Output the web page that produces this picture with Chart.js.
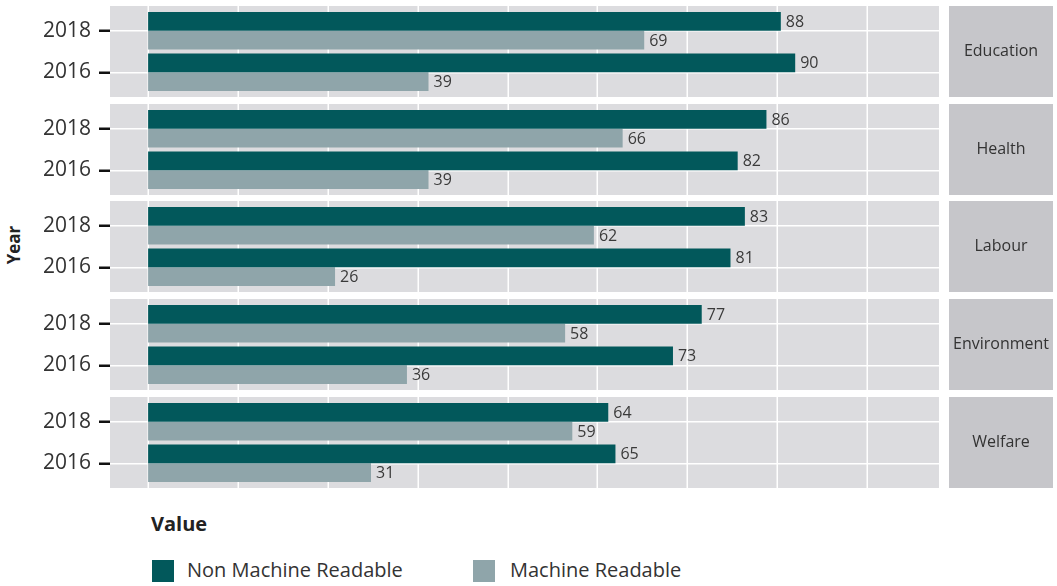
<!DOCTYPE html>
<html>
<head>
<meta charset="utf-8">
<script src="https://cdn.jsdelivr.net/npm/chart.js@4.4.1/dist/chart.umd.min.js"></script>
<style>
    body { margin: 0; background: #ffffff; font-family: 'Open Sans', sans-serif; color: #333; }
    #wrap { position: relative; width: 1057px; height: 586px; overflow: hidden; }
    .panel { position: absolute; left: 0; }
    #yearTitle { position: absolute; left: 13px; top: 245px; transform: translate(-50%, -50%) rotate(-90deg); font-weight: 700; font-size: 17px; color: #222; }
    #valueTitle { position: absolute; left: 151px; top: 510px; font-weight: 700; font-size: 20px; color: #222; }
    .legendBox { position: absolute; top: 560px; width: 22px; height: 22px; }
    .legendText { position: absolute; top: 556px; font-size: 20px; color: #333; }
</style>
</head>
<body>
<div id="wrap">
    <div id="yearTitle">Year</div>
    <div id="valueTitle">Value</div>
    <div class="legendBox" style="left:152px; background:#02585b;"></div>
    <div class="legendText" style="left:187px;">Non Machine Readable</div>
    <div class="legendBox" style="left:473px; background:#8fa5aa;"></div>
    <div class="legendText" style="left:510px;">Machine Readable</div>
</div>
<script>
// Data
const sectors = ['Education', 'Health', 'Labour', 'Environment', 'Welfare'];
const years = ['2018', '2016'];
const nonMachine2018 = [88, 86, 83, 77, 64];
const nonMachine2016 = [90, 82, 81, 73, 65];
const machine2018 = [69, 66, 62, 58, 59];
const machine2016 = [39, 39, 26, 36, 31];
const xGridTicks = [0, 12.5, 25, 37.5, 50, 62.5, 75, 87.5, 100];

const nonMachineByYear = [nonMachine2018, nonMachine2016];
const machineByYear = [machine2018, machine2016];

// Panel layout (facet rows)
const panelTops = [6, 104, 201, 299, 397];
const panelHeight = 91;
const panelPad = 4; // extra room above / below the categories (ggplot expand)
const canvasWidth = 1057;
const panelRight = 939;
const stripLeft = 949;
const stripRight = 1053;

const darkTeal = '#02585b';
const greyBar = '#8fa5aa';

// Panel background + vertical grid lines across the whole panel
const panelBackground = {
    id: 'panelBackground',
    beforeDraw(chart) {
        const { ctx, chartArea } = chart;
        const top = chartArea.top - panelPad;
        const bottom = chartArea.bottom + panelPad;
        ctx.save();
        ctx.fillStyle = '#dcdcdf';
        ctx.fillRect(chartArea.left, top, chartArea.right - chartArea.left, bottom - top);
        ctx.strokeStyle = '#ffffff';
        ctx.lineWidth = 1.5;
        xGridTicks.forEach(v => {
            const x = Math.round(chart.scales.x.getPixelForValue(v)) + 0.25;
            ctx.beginPath();
            ctx.moveTo(x, top);
            ctx.lineTo(x, bottom);
            ctx.stroke();
        });
        ctx.restore();
    }
};

// Facet strip on the right
const facetStrip = {
    id: 'facetStrip',
    afterDraw(chart, args, opts) {
        const { ctx, chartArea } = chart;
        const top = chartArea.top - panelPad;
        const bottom = chartArea.bottom + panelPad;
        ctx.save();
        ctx.fillStyle = '#c6c6ca';
        ctx.fillRect(stripLeft, top, stripRight - stripLeft, bottom - top);
        ctx.fillStyle = '#333';
        ctx.font = '16px "Open Sans"';
        ctx.textAlign = 'center';
        ctx.textBaseline = 'middle';
        ctx.fillText(opts.text, (stripLeft + stripRight) / 2, (top + bottom) / 2);
        ctx.restore();
    }
};

// Value labels at the end of each bar
const valueLabels = {
    id: 'valueLabels',
    afterDatasetsDraw(chart) {
        const { ctx } = chart;
        ctx.save();
        ctx.fillStyle = '#3a3a3a';
        ctx.font = '16px "Open Sans"';
        ctx.textAlign = 'left';
        ctx.textBaseline = 'middle';
        chart.data.datasets.forEach((dataset, i) => {
            chart.getDatasetMeta(i).data.forEach((bar, j) => {
                ctx.fillText(String(dataset.data[j]), bar.x + 5, bar.y + 1);
            });
        });
        ctx.restore();
    }
};

function makePanel(p) {
    const canvas = document.createElement('canvas');
    canvas.className = 'panel';
    canvas.width = canvasWidth;
    canvas.height = panelHeight;
    canvas.style.top = panelTops[p] + 'px';
    canvas.style.width = canvasWidth + 'px';
    canvas.style.height = panelHeight + 'px';
    document.getElementById('wrap').appendChild(canvas);

    const data = {
        labels: years,
        datasets: [{
            label: 'Non Machine Readable',
            data: years.map((y, i) => nonMachineByYear[i][p]),
            backgroundColor: darkTeal,
            borderWidth: 0
        }, {
            label: 'Machine Readable',
            data: years.map((y, i) => machineByYear[i][p]),
            backgroundColor: greyBar,
            borderWidth: 0
        }]
    };

    return new Chart(canvas, {
        type: 'bar',
        data: data,
        plugins: [panelBackground, facetStrip, valueLabels],
        options: {
            indexAxis: 'y',
            responsive: false,
            animation: false,
            devicePixelRatio: 1,
            categoryPercentage: 0.9,
            barPercentage: 1.0,
            layout: { padding: { left: 0, right: canvasWidth - panelRight, top: panelPad, bottom: panelPad } },
            plugins: {
                legend: { display: false },
                tooltip: { enabled: false },
                facetStrip: { text: sectors[p] }
            },
            scales: {
                x: {
                    type: 'linear',
                    min: -5.3,
                    max: 110,
                    afterFit: scale => { scale.height = 0; scale.paddingLeft = 0; scale.paddingRight = 0; },
                    ticks: { display: false },
                    border: { display: false },
                    grid: { display: false, drawTicks: false }
                },
                y: {
                    type: 'category',
                    offset: true,
                    afterFit: scale => { scale.width = 110; scale.paddingTop = 0; scale.paddingBottom = 0; },
                    ticks: {
                        padding: 8,
                        color: '#333',
                        font: { family: 'Open Sans', size: 21 }
                    },
                    border: { display: false },
                    grid: {
                        offset: false,
                        color: '#ffffff',
                        lineWidth: 1.5,
                        tickColor: '#111111',
                        tickWidth: 2.5,
                        tickLength: 11
                    }
                }
            }
        }
    });
}

// Initialize one chart per facet
sectors.forEach((s, p) => makePanel(p));
</script>
</body>
</html>
